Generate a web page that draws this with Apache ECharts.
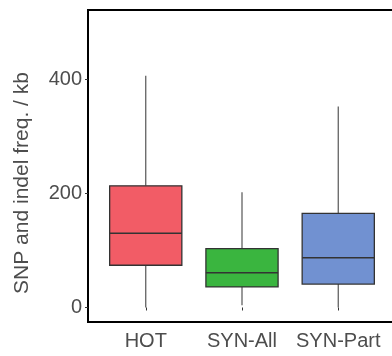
<!DOCTYPE html>
<html>
<head>
<meta charset="utf-8">
<script src="https://cdn.jsdelivr.net/npm/echarts@6/dist/echarts.min.js"></script>
<style>html,body{margin:0;padding:0;background:#fff}#c{width:392px;height:356px}</style>
</head>
<body>
<div id="c"></div>
<script>
const categories = ['HOT', 'SYN-All', 'SYN-Part'];
const mins    = [0, 4, 0];
const q1s     = [74, 36, 41];
const medians = [130, 61, 87];
const q3s     = [213, 103, 165];
const maxs    = [406, 202, 352];
const colors  = ['#F25C66', '#3AB53F', '#7191D1'];
const yTicks  = [0, 200, 400];
const yTitle  = 'SNP and indel freq. / kb';

const chart = echarts.init(document.getElementById('c'), null, {renderer: 'canvas'});
const font = '"Liberation Sans", Arial, Helvetica, sans-serif';
const data = categories.map((c, i) => [i + 1, mins[i], q1s[i], medians[i], q3s[i], maxs[i]]);

function renderBox(params, api) {
  const x = api.value(0);
  const i = params.dataIndex;
  const pMin = api.coord([x, api.value(1)]);
  const pQ1 = api.coord([x, api.value(2)]);
  const pMed = api.coord([x, api.value(3)]);
  const pQ3 = api.coord([x, api.value(4)]);
  const pMax = api.coord([x, api.value(5)]);
  const w = api.size([0.75, 0])[0];
  const cx = pMed[0];
  const whisker = {stroke: '#555', lineWidth: 1.2};
  return {
    type: 'group',
    children: [
      {type: 'line', shape: {x1: cx, y1: pMin[1], x2: cx, y2: pQ1[1]}, style: whisker},
      {type: 'line', shape: {x1: cx, y1: pQ3[1], x2: cx, y2: pMax[1]}, style: whisker},
      {type: 'rect', shape: {x: cx - w / 2, y: pQ3[1], width: w, height: pQ1[1] - pQ3[1]},
        style: {fill: colors[i], stroke: '#333', lineWidth: 1.3}},
      {type: 'line', shape: {x1: cx - w / 2, y1: pMed[1], x2: cx + w / 2, y2: pMed[1]},
        style: {stroke: '#333', lineWidth: 1.5}}
    ]
  };
}

chart.setOption({
  animation: false,
  grid: {
    left: 88, top: 10, width: 308, height: 312,
    show: true, borderColor: '#000', borderWidth: 2,
    outerBoundsMode: 'none', containLabel: false
  },
  xAxis: {
    type: 'value', min: 0.4, max: 3.6,
    splitLine: {show: false},
    axisLine: {show: false},
    axisTick: {show: true, customValues: [1, 2, 3], length: 3, lineStyle: {color: '#333'}},
    axisLabel: {
      customValues: [1, 2, 3],
      formatter: v => categories[Math.round(v) - 1] || '',
      fontFamily: font, fontSize: 20, color: '#4d4d4d', margin: 9
    }
  },
  yAxis: {
    type: 'value', min: -25.4, max: 521,
    splitLine: {show: false},
    axisLine: {show: false},
    axisTick: {show: true, customValues: yTicks, length: 3, lineStyle: {color: '#333'}},
    axisLabel: {
      customValues: yTicks,
      fontFamily: font, fontSize: 20, color: '#4d4d4d', margin: 6,
      padding: [0, 0, 4, 0]
    }
  },
  graphic: [{
    type: 'text', x: 22, y: 183, rotation: Math.PI / 2,
    style: {
      text: yTitle, fontFamily: font, fontSize: 21, fill: '#4d4d4d',
      align: 'center', verticalAlign: 'middle'
    }
  }],
  series: [{
    type: 'custom',
    renderItem: renderBox,
    encode: {x: 0, y: [1, 2, 3, 4, 5]},
    data: data
  }]
});
</script>
</body>
</html>
